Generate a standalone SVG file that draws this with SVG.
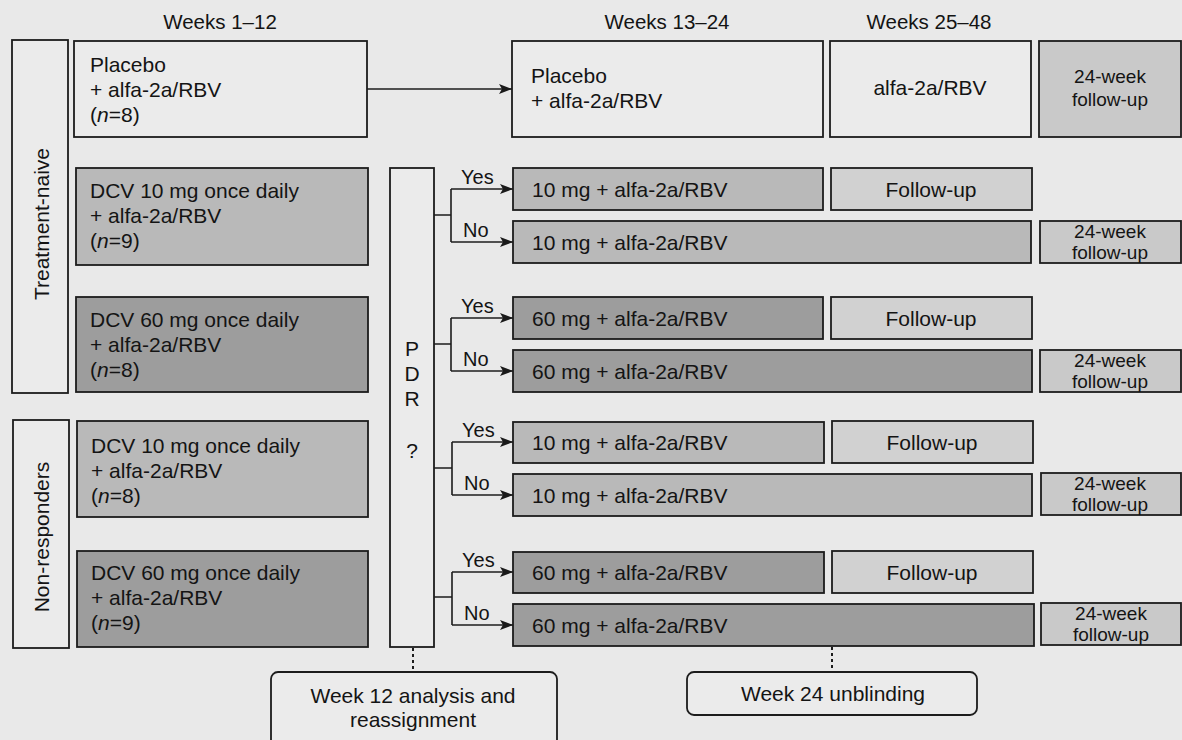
<svg xmlns="http://www.w3.org/2000/svg" width="1182" height="740" viewBox="0 0 1182 740">
<defs>
<marker id="ah" viewBox="0 0 13 10" refX="13" refY="5" markerWidth="13" markerHeight="10" markerUnits="userSpaceOnUse" orient="auto">
<path d="M0,0 L13,5 L0,10 L3,5 Z" fill="#1a1a1a"/>
</marker>
<style>
text{font-family:"Liberation Sans",Arial,sans-serif;fill:#141414;font-size:21px}
.hdr{font-size:20.5px}
.sm{font-size:19px}
.yn{font-size:20px}
.box{stroke:#1c1c1c;stroke-width:1.8}
.w{fill:#ebebeb}
.g1{fill:#b9b9b9}
.g2{fill:#9d9d9d}
.fu{fill:#d1d1d1}
.f24{fill:#c9c9c9}
.ln{fill:none;stroke:#1c1c1c;stroke-width:1.6}
.dot{fill:none;stroke:#1c1c1c;stroke-width:2;stroke-dasharray:3 3}
.c{text-anchor:middle}
</style>
</defs>
<rect width="1182" height="740" fill="#e9e9e9"/>

<g id="headers">
<text class="hdr c" x="220" y="29">Weeks 1–12</text>
<text class="hdr c" x="667" y="29">Weeks 13–24</text>
<text class="hdr c" x="929" y="29">Weeks 25–48</text>
</g>

<g id="group-tn">
<rect class="box w" x="12" y="40" width="56" height="353"/>
<text class="c" transform="translate(49,224) rotate(-90)">Treatment-naive</text>
</g>
<g id="group-nr">
<rect class="box w" x="13" y="420" width="56" height="228"/>
<text class="c" transform="translate(49,537) rotate(-90)">Non-responders</text>
</g>

<g id="placebo-1">
<rect class="box w" x="74" y="41" width="293" height="96"/>
<text x="90" y="72">Placebo</text>
<text x="90" y="97">+ alfa-2a/RBV</text>
<text x="90" y="122">(<tspan font-style="italic">n</tspan>=8)</text>
</g>
<g id="tn-dcv10">
<rect class="box g1" x="76" y="168" width="292" height="97"/>
<text x="90" y="198">DCV 10 mg once daily</text>
<text x="90" y="223">+ alfa-2a/RBV</text>
<text x="90" y="248">(<tspan font-style="italic">n</tspan>=9)</text>
</g>
<g id="tn-dcv60">
<rect class="box g2" x="76" y="297" width="292" height="95"/>
<text x="90" y="327">DCV 60 mg once daily</text>
<text x="90" y="352">+ alfa-2a/RBV</text>
<text x="90" y="377">(<tspan font-style="italic">n</tspan>=8)</text>
</g>
<g id="nr-dcv10">
<rect class="box g1" x="77" y="421" width="291" height="96"/>
<text x="91" y="453">DCV 10 mg once daily</text>
<text x="91" y="478">+ alfa-2a/RBV</text>
<text x="91" y="503">(<tspan font-style="italic">n</tspan>=8)</text>
</g>
<g id="nr-dcv60">
<rect class="box g2" x="77" y="551" width="291" height="96"/>
<text x="91" y="580">DCV 60 mg once daily</text>
<text x="91" y="605">+ alfa-2a/RBV</text>
<text x="91" y="630">(<tspan font-style="italic">n</tspan>=9)</text>
</g>

<g id="pdr">
<rect class="box w" x="390" y="168" width="44" height="479"/>
<text class="c" x="412" y="356">P</text>
<text class="c" x="412" y="381">D</text>
<text class="c" x="412" y="406">R</text>
<text class="c" x="412" y="458">?</text>
</g>

<g id="placebo-2">
<rect class="box w" x="512" y="41" width="311" height="96"/>
<text x="531" y="83">Placebo</text>
<text x="531" y="108">+ alfa-2a/RBV</text>
</g>
<g id="alfa-only">
<rect class="box w" x="830" y="41" width="201" height="96"/>
<text class="c" x="930" y="95">alfa-2a/RBV</text>
</g>
<g id="fu24-top">
<rect class="box f24" x="1039" y="41" width="142" height="96"/>
<text class="sm c" x="1110" y="83">24-week</text>
<text class="sm c" x="1110" y="106">follow-up</text>
</g>

<g id="tn10-yes">
<rect class="box g1" x="513" y="168" width="310" height="42"/>
<text x="532" y="197">10 mg + alfa-2a/RBV</text>
</g>
<g id="tn10-yes-fu">
<rect class="box fu" x="831" y="168" width="201" height="42"/>
<text class="c" x="931" y="197">Follow-up</text>
</g>
<g id="tn10-no">
<rect class="box g1" x="513" y="221" width="518" height="42"/>
<text x="532" y="250">10 mg + alfa-2a/RBV</text>
</g>
<g id="tn10-no-fu">
<rect class="box f24" x="1040" y="221" width="141" height="42"/>
<text class="sm c" x="1110" y="238">24-week</text>
<text class="sm c" x="1110" y="259">follow-up</text>
</g>

<g id="tn60-yes">
<rect class="box g2" x="513" y="297" width="310" height="42"/>
<text x="532" y="326">60 mg + alfa-2a/RBV</text>
</g>
<g id="tn60-yes-fu">
<rect class="box fu" x="831" y="297" width="201" height="42"/>
<text class="c" x="931" y="326">Follow-up</text>
</g>
<g id="tn60-no">
<rect class="box g2" x="513" y="350" width="519" height="42"/>
<text x="532" y="379">60 mg + alfa-2a/RBV</text>
</g>
<g id="tn60-no-fu">
<rect class="box f24" x="1040" y="350" width="141" height="42"/>
<text class="sm c" x="1110" y="367">24-week</text>
<text class="sm c" x="1110" y="388">follow-up</text>
</g>

<g id="nr10-yes">
<rect class="box g1" x="513" y="422" width="311" height="41"/>
<text x="532" y="450">10 mg + alfa-2a/RBV</text>
</g>
<g id="nr10-yes-fu">
<rect class="box fu" x="832" y="421" width="201" height="42"/>
<text class="c" x="932" y="450">Follow-up</text>
</g>
<g id="nr10-no">
<rect class="box g1" x="513" y="474" width="519" height="42"/>
<text x="532" y="503">10 mg + alfa-2a/RBV</text>
</g>
<g id="nr10-no-fu">
<rect class="box f24" x="1041" y="473" width="140" height="42"/>
<text class="sm c" x="1110" y="490">24-week</text>
<text class="sm c" x="1110" y="511">follow-up</text>
</g>

<g id="nr60-yes">
<rect class="box g2" x="513" y="552" width="311" height="41"/>
<text x="532" y="580">60 mg + alfa-2a/RBV</text>
</g>
<g id="nr60-yes-fu">
<rect class="box fu" x="832" y="551" width="201" height="42"/>
<text class="c" x="932" y="580">Follow-up</text>
</g>
<g id="nr60-no">
<rect class="box g2" x="513" y="604" width="521" height="42"/>
<text x="532" y="633">60 mg + alfa-2a/RBV</text>
</g>
<g id="nr60-no-fu">
<rect class="box f24" x="1041" y="603" width="140" height="42"/>
<text class="sm c" x="1111" y="620">24-week</text>
<text class="sm c" x="1111" y="641">follow-up</text>
</g>

<g id="week12">
<rect class="box w" x="271" y="672" width="286" height="80" rx="7"/>
<text class="c" x="413" y="703">Week 12 analysis and</text>
<text class="c" x="413" y="727">reassignment</text>
</g>
<g id="week24">
<rect class="box w" x="687" y="672" width="290" height="43" rx="7"/>
<text class="c" x="833" y="701">Week 24 unblinding</text>
</g>

<g id="connectors">
<line class="ln" x1="367" y1="89" x2="512" y2="89" marker-end="url(#ah)"/>

<path class="ln" d="M434,215 H451 M451,189 V242"/>
<line class="ln" x1="451" y1="189" x2="513" y2="189" marker-end="url(#ah)"/>
<line class="ln" x1="451" y1="242" x2="513" y2="242" marker-end="url(#ah)"/>

<path class="ln" d="M434,344 H451 M451,318 V371"/>
<line class="ln" x1="451" y1="318" x2="513" y2="318" marker-end="url(#ah)"/>
<line class="ln" x1="451" y1="371" x2="513" y2="371" marker-end="url(#ah)"/>

<path class="ln" d="M434,468 H452 M452,442 V495"/>
<line class="ln" x1="452" y1="442" x2="513" y2="442" marker-end="url(#ah)"/>
<line class="ln" x1="452" y1="495" x2="513" y2="495" marker-end="url(#ah)"/>

<path class="ln" d="M434,597 H452 M452,572 V625"/>
<line class="ln" x1="452" y1="572" x2="513" y2="572" marker-end="url(#ah)"/>
<line class="ln" x1="452" y1="625" x2="513" y2="625" marker-end="url(#ah)"/>

<text x="461" y="184" class="yn">Yes</text>
<text x="463" y="237" class="yn">No</text>
<text x="461" y="313" class="yn">Yes</text>
<text x="463" y="366" class="yn">No</text>
<text x="462" y="437" class="yn">Yes</text>
<text x="464" y="490" class="yn">No</text>
<text x="462" y="567" class="yn">Yes</text>
<text x="464" y="620" class="yn">No</text>

<line class="dot" x1="413" y1="648" x2="413" y2="672"/>
<line class="dot" x1="832" y1="647" x2="832" y2="672"/>
</g>
</svg>
